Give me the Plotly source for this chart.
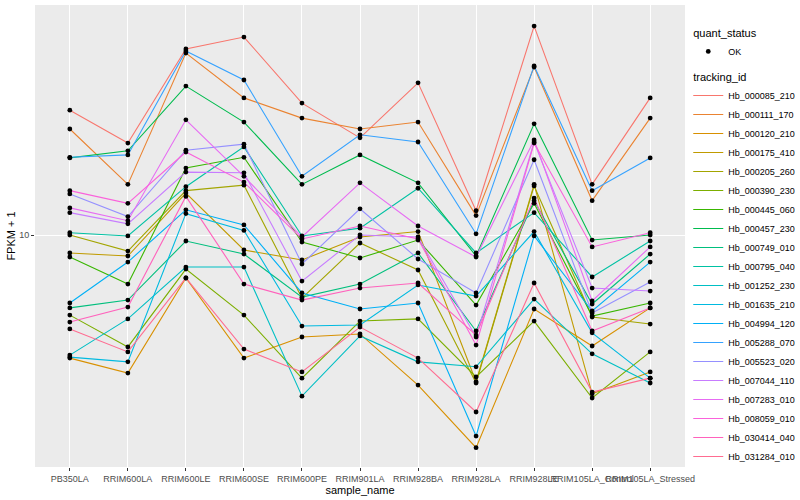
import plotly.graph_objects as go

sample_names = ["PB350LA", "RRIM600LA", "RRIM600LE", "RRIM600SE", "RRIM600PE",
                "RRIM901LA", "RRIM928BA", "RRIM928LA", "RRIM928LE",
                "RRIM105LA_Control", "RRIM105LA_Stressed"]

tracking_ids = ["Hb_000085_210", "Hb_000111_170", "Hb_000120_210", "Hb_000175_410",
                "Hb_000205_260", "Hb_000390_230", "Hb_000445_060", "Hb_000457_230",
                "Hb_000749_010", "Hb_000795_040", "Hb_001252_230", "Hb_001635_210",
                "Hb_004994_120", "Hb_005288_070", "Hb_005523_020", "Hb_007044_110",
                "Hb_007283_010", "Hb_008059_010", "Hb_030414_040", "Hb_031284_010"]

line_colors = ["#F8766D", "#EA8331", "#D89000", "#C09B00", "#A3A500", "#7CAE00",
               "#39B600", "#00BB4E", "#00BF7D", "#00C1A3", "#00BFC4", "#00BAE0",
               "#00B0F6", "#35A2FF", "#9590FF", "#C77CFF", "#E76BF3", "#FA62DB",
               "#FF62BC", "#FF6C91"]

# FPKM + 1 per sample (order of sample_names)
hb_000085_210 = [29.0, 21.9, 48.9, 54.1, 30.8, 22.9, 36.6, 12.3, 59.4, 15.4, 32.2]
hb_000111_170 = [24.7, 15.4, 47.2, 32.2, 27.1, 24.7, 26.2, 11.8, 41.9, 13.4, 27.1]
hb_000120_210 = [3.50, 3.08, 6.93, 3.50, 4.19, 4.30, 2.78, 1.63, 5.32, 3.88, 5.37]
hb_000175_410 = [8.58, 8.36, 14.3, 8.80, 8.08, 9.83, 10.3, 2.86, 15.4, 2.58, 3.11]
hb_000205_260 = [10.0, 8.72, 14.6, 15.3, 5.84, 9.34, 7.42, 2.83, 15.2, 4.97, 4.68]
hb_000390_230 = [5.05, 3.85, 7.48, 5.05, 2.95, 4.80, 4.89, 2.98, 4.80, 2.49, 3.69]
hb_000445_060 = [8.29, 6.58, 17.7, 19.4, 9.42, 8.22, 9.58, 5.50, 13.1, 5.01, 5.60]
hb_000457_230 = [19.3, 20.5, 35.6, 26.2, 15.4, 19.8, 15.6, 8.36, 25.8, 9.58, 10.0]
hb_000749_010 = [5.37, 5.74, 9.50, 8.50, 5.89, 6.58, 8.58, 4.41, 13.4, 5.55, 8.50]
hb_000795_040 = [10.2, 9.92, 15.1, 21.2, 9.92, 10.6, 14.9, 8.58, 12.1, 6.99, 9.50]
hb_001252_230 = [3.59, 4.89, 7.61, 7.61, 2.53, 4.23, 3.39, 3.25, 5.79, 3.63, 2.83]
hb_001635_210 = [3.53, 3.39, 12.0, 10.4, 4.60, 4.64, 6.53, 5.94, 10.3, 4.34, 2.95]
hb_004994_120 = [5.60, 7.94, 12.4, 10.9, 6.10, 5.32, 5.60, 1.80, 9.92, 5.23, 7.94]
hb_005288_070 = [19.4, 19.8, 48.0, 37.5, 16.5, 23.5, 22.1, 10.1, 42.3, 14.6, 19.3]
hb_005523_020 = [14.2, 11.7, 20.6, 21.7, 7.81, 12.5, 8.15, 6.10, 19.0, 5.14, 6.70]
hb_007044_110 = [12.1, 11.0, 17.1, 17.0, 6.75, 10.0, 9.83, 4.19, 22.1, 6.36, 6.20]
hb_007283_010 = [12.6, 11.3, 26.7, 16.5, 9.83, 15.6, 10.8, 8.29, 22.5, 5.70, 9.03]
hb_008059_010 = [14.6, 13.1, 20.3, 15.7, 9.67, 10.8, 9.67, 3.91, 21.9, 9.03, 10.2]
hb_030414_040 = [4.76, 5.41, 13.9, 6.58, 5.74, 6.36, 6.64, 4.26, 13.7, 4.41, 5.37]
hb_031284_010 = [4.49, 3.69, 6.93, 3.78, 3.11, 4.56, 3.50, 2.21, 6.64, 2.62, 2.95]

series_values = [hb_000085_210, hb_000111_170, hb_000120_210, hb_000175_410,
                 hb_000205_260, hb_000390_230, hb_000445_060, hb_000457_230,
                 hb_000749_010, hb_000795_040, hb_001252_230, hb_001635_210,
                 hb_004994_120, hb_005288_070, hb_005523_020, hb_007044_110,
                 hb_007283_010, hb_008059_010, hb_030414_040, hb_031284_010]

FONT = "Liberation Sans, Arial, Helvetica, sans-serif"

fig = go.Figure()
for i, (tid, col, vals) in enumerate(zip(tracking_ids, line_colors, series_values)):
    fig.add_trace(go.Scatter(
        x=sample_names, y=vals, mode="lines", name=tid,
        line=dict(color=col, width=1.1),
        legendgroup="tracking_id",
        legendgrouptitle=dict(text="tracking_id", font=dict(size=11, color="black")),
        legendrank=100 + i,
        hoverinfo="x+y+name",
    ))

all_x = [s for _ in series_values for s in sample_names]
all_y = [v for vals in series_values for v in vals]
fig.add_trace(go.Scatter(
    x=all_x, y=all_y, mode="markers", name="OK",
    marker=dict(color="black", size=4.8, symbol="circle"),
    legendgroup="quant_status",
    legendgrouptitle=dict(text="quant_status", font=dict(size=11, color="black")),
    legendrank=1,
))

fig.update_layout(
    template="none",
    width=800, height=500,
    margin=dict(l=35, r=115, t=5, b=33, pad=0, autoexpand=False),
    paper_bgcolor="white",
    plot_bgcolor="#EBEBEB",
    font=dict(family=FONT, size=9, color="#4D4D4D"),
    showlegend=True,
    legend=dict(
        x=1.005, xanchor="left", y=0.972, yanchor="top",
        font=dict(size=9, color="black"),
        traceorder="grouped", tracegroupgap=6,
        bgcolor="rgba(0,0,0,0)", itemwidth=30,
    ),
    xaxis=dict(
        type="category", categoryorder="array", categoryarray=sample_names,
        range=[-0.6, 10.6], showgrid=True, gridcolor="white", gridwidth=1.1,
        zeroline=False, showline=False, ticks="outside", ticklen=3,
        tickcolor="#333333", tickwidth=1, tickangle=0, automargin=False,
        tickfont=dict(size=9, color="#4D4D4D"),
        title=dict(text="sample_name", font=dict(size=11, color="black"), standoff=2),
    ),
    yaxis=dict(
        type="log", range=[0.1407, 1.8519], tickvals=[10], ticktext=["10"],
        showgrid=True, gridcolor="white", gridwidth=1.1, zeroline=False,
        showline=False, ticks="outside", ticklen=3, tickcolor="#333333",
        tickwidth=1, automargin=False,
        tickfont=dict(size=9, color="#4D4D4D"),
        title=dict(text="FPKM + 1", font=dict(size=11, color="black"), standoff=1),
    ),
)

fig.write_html(
    "out.html",
    config={"displayModeBar": False},
    post_script="document.body.style.margin='0';document.body.style.padding='0';"
                "document.body.style.overflow='hidden';",
)
